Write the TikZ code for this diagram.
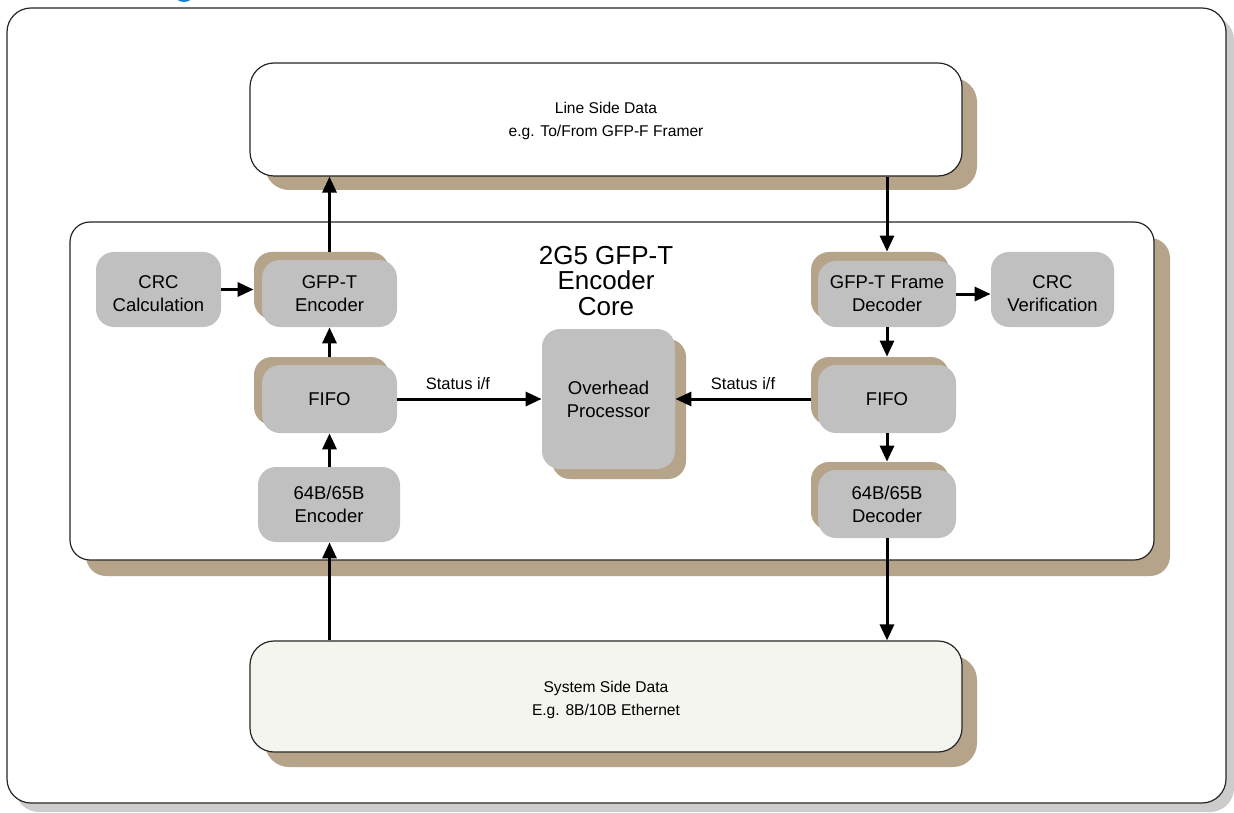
\documentclass[tikz,border=0pt]{standalone}
\usepackage{fontspec}
\setmainfont{Liberation Sans}
\usetikzlibrary{fit,arrows.meta}
\definecolor{tan}{RGB}{181,164,138}
\definecolor{blkgray}{RGB}{192,192,192}
\definecolor{frameshadow}{RGB}{204,204,204}
\definecolor{cream}{RGB}{245,245,239}
\definecolor{titleblue}{RGB}{20,135,210}
\tikzset{
  blk/.style={fill=blkgray, rounded corners=9pt, inner sep=0pt},
  txt/.style={align=center, inner sep=0pt, font=\fontsize{9.25}{11.5}\selectfont},
  bigtxt/.style={align=center, inner sep=0pt, font=\fontsize{7.8}{11.5}\selectfont},
  tanbox/.style={fill=tan, rounded corners=9pt, inner sep=0pt},
  bigbox/.style={draw=black!85, line width=0.6pt, rounded corners=12pt, inner sep=0pt},
  arr/.style={line width=1.5pt, -{Triangle[length=8pt,width=7pt]}},
  lbl/.style={font=\fontsize{8.25}{10}\selectfont, above, inner sep=4pt}
}
\begin{document}
\begin{tikzpicture}[x=0.5pt,y=-0.5pt]
\useasboundingbox (0,0) rectangle (1234,812);
\begin{scope}
\clip (0,0) rectangle (1234,812);
\fill[titleblue] (184,-5) ellipse (9 and 7);
\end{scope}
% outer frame
\fill[frameshadow, rounded corners=12pt] (15,16) rectangle (1234,812);
\node[bigbox, fill=white, fit={(7,8)(1226,803)}] (frame) {};
% line side
\fill[tan, rounded corners=12pt] (265,78) rectangle (977,190);
\node[bigbox, fill=white, fit={(250,63)(962,176)}] (line) {};
\node[bigtxt] (lineT) at (606,121) {Line Side Data\\e.g. To/From GFP-F Framer};
% core
\fill[tan, rounded corners=10pt] (86,238) rectangle (1170,576);
\node[bigbox, fill=white, rounded corners=10pt, fit={(70,222)(1154,560)}] (core) {};
\node[align=center, font=\fontsize{13}{12.75}\selectfont, inner sep=0pt] (title) at (606,281) {2G5 GFP-T\\Encoder\\Core};
% system side
\fill[tan, rounded corners=12pt] (265,656) rectangle (977,767);
\node[bigbox, fill=cream, fit={(250,641)(962,752)}] (sys) {};
\node[bigtxt] (sysT) at (606,700) {System Side Data\\E.g. 8B/10B Ethernet};
% left column
\node[blk, fit={(96,252)(221,327)}] (crcc) {};
\node[txt, yshift=-2pt] (crccT) at (crcc.center) {CRC\\Calculation};
\node[tanbox, fit={(254,252)(389,319)}] (encS) {};
\node[blk, fit={(262,260)(397,327)}] (enc) {};
\node[txt] (encT) at (enc.center) {GFP-T\\Encoder};
\node[tanbox, fit={(254,357)(389,425)}] (fifoLS) {};
\node[blk, fit={(262,365)(397,433)}] (fifoL) {};
\node[txt] (fifoLT) at (fifoL.center) {FIFO};
\node[blk, fit={(258,467)(400,542)}] (e64) {};
\node[txt] (e64T) at (e64.center) {64B/65B\\Encoder};
% overhead
\node[tanbox, fit={(552,339)(686,479)}] (ohS) {};
\node[blk, fit={(542,329)(675,469)}] (oh) {};
\node[txt] (ohT) at (oh.center) {Overhead\\Processor};
% right column
\node[tanbox, fit={(811,252)(949,319)}] (decS) {};
\node[blk, fit={(818,261)(956,327)}] (dec) {};
\node[txt] (decT) at (dec.center) {GFP-T Frame\\Decoder};
\node[tanbox, fit={(811,357)(949,425)}] (fifoRS) {};
\node[blk, fit={(818,365)(956,433)}] (fifoR) {};
\node[txt] (fifoRT) at (fifoR.center) {FIFO};
\node[tanbox, fit={(811,462)(949,530)}] (d64S) {};
\node[blk, fit={(818,470)(956,538)}] (d64) {};
\node[txt] (d64T) at (d64.center) {64B/65B\\Decoder};
\node[blk, fit={(991,252)(1114,327)}] (crcv) {};
\node[txt, yshift=-2pt] (crcvT) at (crcv.center) {CRC\\Verification};
% arrows
\draw[arr] (encS.north -| enc.north) -- (line.south -| enc.north);
\draw[arr] (line.south -| dec.north) -- (decS.north -| dec.north);
\draw[arr] (crcc.east) -- (encS.west |- crcc.east);
\draw[arr] (fifoLS.north -| fifoL.north) -- (enc.south);
\draw[arr] (e64.north -| fifoL.south) -- (fifoL.south);
\draw[arr] (sys.north -| fifoL.south) -- (e64.south -| fifoL.south);
\draw[arr] (dec.east) -- (crcv.west |- dec.east);
\draw[arr] (dec.south) -- (fifoRS.north -| dec.south);
\draw[arr] (fifoR.south) -- (d64S.north -| fifoR.south);
\draw[arr] (d64.south) -- (sys.north -| d64.south);
\draw[arr] (fifoL.east) -- node[lbl, pos=0.42] {Status i/f} (oh.west |- fifoL.east);
\draw[arr] (fifoRS.west |- fifoR.west) -- node[lbl] {Status i/f} (oh.east |- fifoR.west);
\end{tikzpicture}
\end{document}
